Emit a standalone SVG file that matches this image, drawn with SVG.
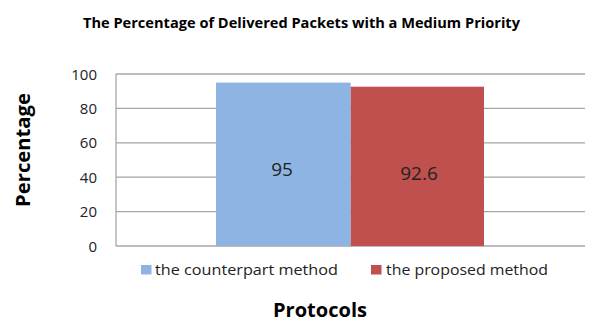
<svg xmlns="http://www.w3.org/2000/svg" width="595" height="323" viewBox="0 0 595 323">
<style>
text{font-family:"Open Sans","Liberation Sans",sans-serif;fill:#000}
.grid{stroke:#A6A6A6;stroke-width:1.3;fill:none}
.tick{font-size:15px;text-anchor:end;fill:#222}
.val{font-size:19px;text-anchor:middle;fill:#222}
.leg{font-size:15px;fill:#222}
.b{font-weight:bold}
</style>
<rect width="595" height="323" fill="#fff"/>
<text class="b" x="83" y="28" font-size="14.5" textLength="437" lengthAdjust="spacingAndGlyphs">The Percentage of Delivered Packets with a Medium Priority</text>
<g id="grid">
<path class="grid" d="M116 74H585M116 108.4H585M116 142.8H585M116 177.2H585M116 211.6H585M116 246H585M116 74V246"/>
</g>
<g id="axis-labels">
<text class="tick" x="97" y="79.5">100</text>
<text class="tick" x="97" y="114">80</text>
<text class="tick" x="97" y="148.3">60</text>
<text class="tick" x="97" y="182.7">40</text>
<text class="tick" x="97" y="217">20</text>
<text class="tick" x="97" y="251.5">0</text>
</g>
<g id="bar-counterpart">
<rect x="216" y="82.6" width="134.7" height="163.4" fill="#8EB4E3"/>
<text class="val" x="282" y="176">95</text>
</g>
<g id="bar-proposed">
<rect x="350.7" y="86.7" width="133.3" height="159.3" fill="#C0504D"/>
<text class="val" x="419" y="180">92.6</text>
</g>
<text class="b" x="-207" y="0" font-size="19" textLength="114" lengthAdjust="spacingAndGlyphs" transform="translate(30 0) rotate(-90)">Percentage</text>
<g id="legend">
<rect x="141" y="265" width="10.5" height="9.5" fill="#8EB4E3"/>
<text class="leg" x="155" y="275" textLength="183" lengthAdjust="spacingAndGlyphs">the counterpart method</text>
<rect x="371" y="265" width="10.5" height="9.5" fill="#C0504D"/>
<text class="leg" x="386" y="275" textLength="162" lengthAdjust="spacingAndGlyphs">the proposed method</text>
</g>
<text class="b" x="273" y="317" font-size="19" textLength="94" lengthAdjust="spacingAndGlyphs">Protocols</text>
</svg>
